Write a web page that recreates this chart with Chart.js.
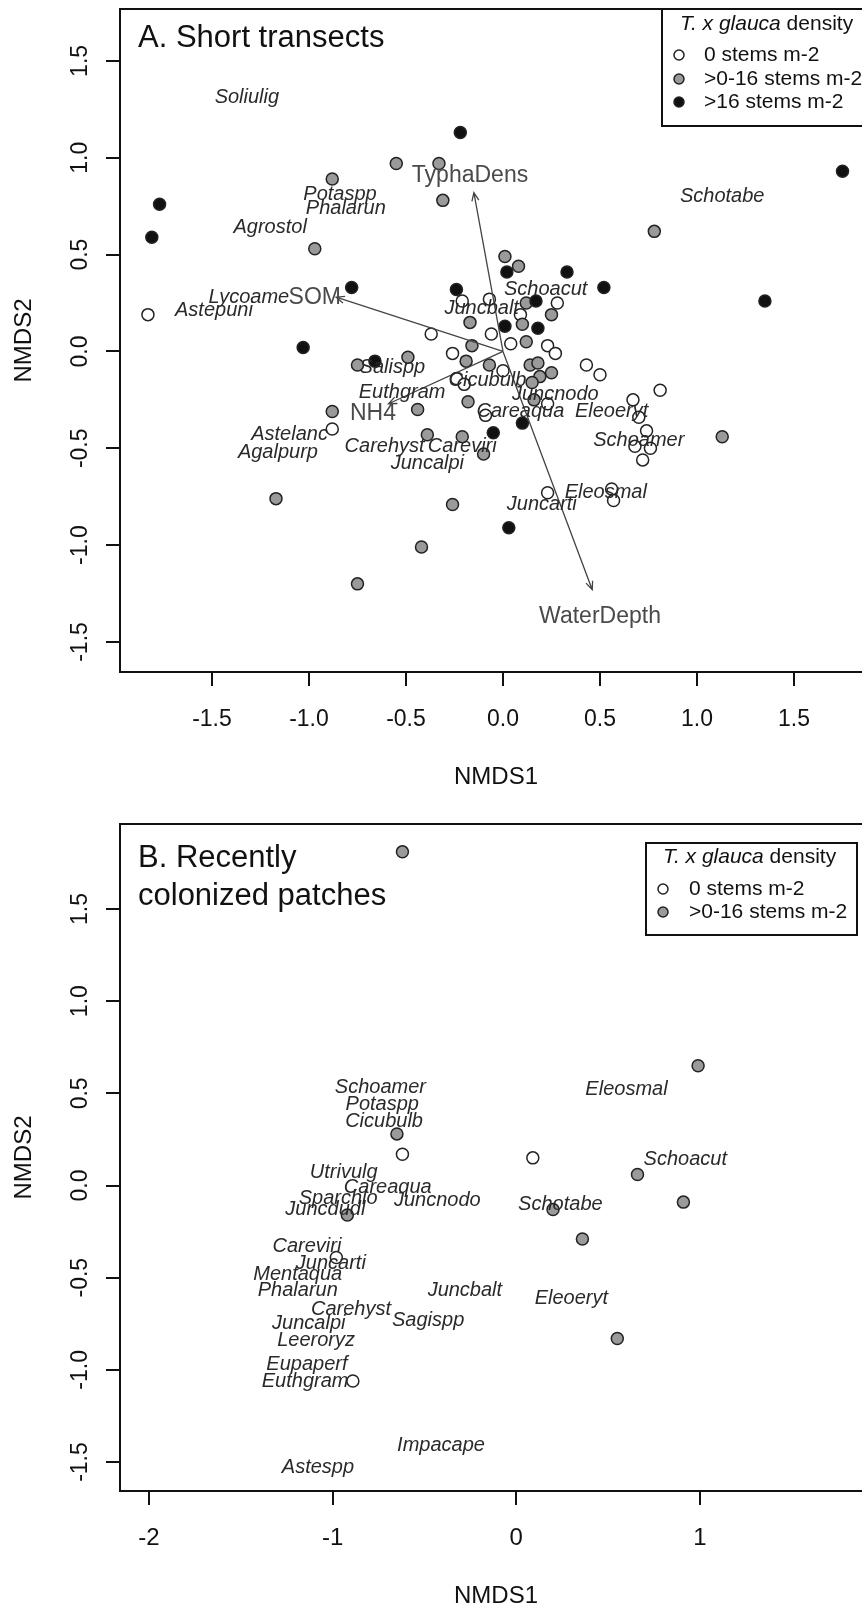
<!DOCTYPE html>
<html>
<head>
<meta charset="utf-8">
<script src="https://cdn.jsdelivr.net/npm/chart.js@4.4.1/dist/chart.umd.min.js"></script>
<style>
  html, body { margin: 0; padding: 0; background: #fff; overflow: hidden; }
  .wrap { position: relative; width: 880px; }
  #wrapA { height: 800px; }
  #wrapB { height: 808px; }
</style>
</head>
<body>
<div class="wrap" id="wrapA"><canvas id="chartA"></canvas></div>
<div class="wrap" id="wrapB"><canvas id="chartB"></canvas></div>
<script>
// ---- Panel A: short transects (site scores by T. x glauca density) ----
var openA = [[-1.83, 0.19], [-0.21, 0.26], [-0.07, 0.27], [0.28, 0.25], [0.09, 0.19], [-0.06, 0.09],
  [-0.37, 0.09], [0.04, 0.04], [0.23, 0.03], [0.27, -0.01], [-0.26, -0.01], [0.43, -0.07],
  [0.00, -0.10], [0.50, -0.12], [-0.24, -0.14], [-0.20, -0.17], [0.81, -0.20], [0.67, -0.25],
  [0.70, -0.34], [0.74, -0.41], [0.68, -0.49], [0.76, -0.50], [0.72, -0.56], [-0.09, -0.33],
  [0.23, -0.73], [0.56, -0.71], [0.57, -0.77], [0.23, -0.27], [-0.88, -0.40]];
var grayA = [[-0.88, 0.89], [-0.97, 0.53], [-0.55, 0.97], [-0.33, 0.97], [-0.31, 0.78], [0.78, 0.62],
  [0.01, 0.49], [0.08, 0.44], [0.12, 0.25], [0.25, 0.19], [-0.17, 0.15], [0.10, 0.14],
  [0.12, 0.05], [-0.16, 0.03], [-0.19, -0.05], [-0.07, -0.07], [0.14, -0.07], [0.18, -0.06],
  [-0.75, -0.07], [-0.49, -0.03], [0.25, -0.11], [0.19, -0.13], [0.15, -0.16], [1.13, -0.44],
  [-0.18, -0.26], [-0.21, -0.44], [-0.10, -0.53], [-0.26, -0.79], [0.16, -0.25], [-0.44, -0.30],
  [-0.88, -0.31], [-0.39, -0.43], [-1.17, -0.76], [-0.42, -1.01], [-0.75, -1.20]];
var blackA = [[-1.77, 0.76], [-1.81, 0.59], [-0.78, 0.33], [-1.03, 0.02], [-0.22, 1.13], [1.75, 0.93],
  [1.35, 0.26], [0.02, 0.41], [0.33, 0.41], [0.52, 0.33], [-0.24, 0.32], [0.17, 0.26],
  [0.01, 0.13], [0.18, 0.12], [-0.66, -0.05], [0.10, -0.37], [-0.05, -0.42], [0.03, -0.91]];

var sppA = ["Soliulig", "Potaspp", "Phalarun", "Agrostol", "Schotabe", "Lycoame", "Astepuni",
  "Schoacut", "Juncbalt", "Salispp", "Euthgram", "Cicubulb", "Juncnodo", "Careaqua", "Eleoeryt",
  "Carehyst", "Careviri", "Juncalpi", "Astelanc", "Agalpurp", "Schoamer", "Eleosmal", "Juncarti"];
var sppAx = [-1.32, -0.84, -0.81, -1.20, 1.13, -1.31, -1.49, 0.22, -0.11, -0.57, -0.52, -0.08, 0.27,
  0.09, 0.56, -0.61, -0.21, -0.39, -1.10, -1.16, 0.70, 0.53, 0.20];
var sppAy = [1.31, 0.81, 0.74, 0.64, 0.80, 0.28, 0.21, 0.32, 0.22, -0.08, -0.21, -0.15, -0.22,
  -0.31, -0.31, -0.49, -0.49, -0.58, -0.43, -0.52, -0.46, -0.73, -0.79];

var envA = ["TyphaDens", "SOM", "NH4", "WaterDepth"];
var envAx = [-0.15, -0.86, -0.59, 0.46];
var envAy = [0.82, 0.28, -0.27, -1.23];
var envLabAx = [-0.17, -0.97, -0.67, 0.50];
var envLabAy = [0.91, 0.28, -0.32, -1.37];

var xTicksA = [-1.5, -1, -0.5, 0, 0.5, 1, 1.5];
var xLabelsA = ["-1.5", "-1.0", "-0.5", "0.0", "0.5", "1.0", "1.5"];

// ---- Panel B: recently colonized patches ----
var openB = [[-0.62, 0.17], [0.09, 0.15], [-0.98, -0.39], [-0.89, -1.06]];
var grayB = [[-0.62, 1.81], [-0.65, 0.28], [0.99, 0.65], [0.66, 0.06], [0.91, -0.09], [0.20, -0.13],
  [0.36, -0.29], [0.55, -0.83], [-0.92, -0.16]];

var sppB = ["Schoamer", "Potaspp", "Cicubulb", "Utrivulg", "Careaqua", "Sparchlo", "Juncnodo",
  "Juncdudl", "Careviri", "Juncarti", "Mentaqua", "Phalarun", "Juncbalt", "Carehyst", "Sagispp",
  "Juncalpi", "Leeroryz", "Eupaperf", "Euthgram", "Astespp", "Impacape", "Eleosmal", "Schoacut",
  "Schotabe", "Eleoeryt"];
var sppBx = [-0.74, -0.73, -0.72, -0.94, -0.70, -0.97, -0.43, -1.04, -1.14, -1.01, -1.19, -1.19,
  -0.28, -0.90, -0.48, -1.13, -1.09, -1.14, -1.15, -1.08, -0.41, 0.60, 0.92, 0.24, 0.30];
var sppBy = [0.53, 0.44, 0.35, 0.07, -0.01, -0.07, -0.08, -0.13, -0.33, -0.42, -0.48, -0.57,
  -0.57, -0.67, -0.73, -0.75, -0.84, -0.97, -1.06, -1.53, -1.41, 0.52, 0.14, -0.10, -0.61];

var xTicksB = [-2, -1, 0, 1];
var xLabelsB = ["-2", "-1", "0", "1"];

var yTicks = [-1.5, -1, -0.5, 0, 0.5, 1, 1.5];
var yLabels = ["-1.5", "-1.0", "-0.5", "0.0", "0.5", "1.0", "1.5"];

var FONT = "'Liberation Sans', Arial, Helvetica, sans-serif";
Chart.defaults.font.family = FONT;
Chart.defaults.color = "#111";

function pts(list) {
  return list.map(function (p) { return { x: p[0], y: p[1] }; });
}

function pointSet(label, list, fill, order) {
  return {
    label: label,
    data: pts(list),
    order: order,
    backgroundColor: fill,
    borderColor: "#222",
    pointBackgroundColor: fill,
    pointBorderColor: "#222",
    pointRadius: 6,
    pointHoverRadius: 6,
    pointBorderWidth: 1.5
  };
}

function axis(min, max, ticks, title, size, pad, isX) {
  return {
    type: "linear",
    min: min,
    max: max,
    bounds: "data",
    afterBuildTicks: function (s) {
      s.ticks = ticks.map(function (v) { return { value: v }; });
    },
    afterFit: function (s) {
      if (isX) s.height = size; else s.width = size;
    },
    ticks: { display: false },
    grid: { drawOnChartArea: false, drawTicks: true, tickLength: 14, color: "#111", lineWidth: 2 },
    border: { display: false },
    title: { display: true, text: title, color: "#111", font: { size: 24, lineHeight: 1 }, padding: pad }
  };
}

// draws the R-style extras: arrows, species names, frame, tick labels, panel title, legend
var nmdsPlugin = {
  id: "nmds",
  afterDatasetsDraw: function (chart, args, o) {
    var ctx = chart.ctx, xs = chart.scales.x, ys = chart.scales.y;
    ctx.save();
    if (o.env) {
      var x0 = xs.getPixelForValue(0), y0 = ys.getPixelForValue(0);
      ctx.strokeStyle = "#444";
      ctx.lineWidth = 1.3;
      o.env.names.forEach(function (n, i) {
        var x1 = xs.getPixelForValue(o.env.x[i]), y1 = ys.getPixelForValue(o.env.y[i]);
        var a = Math.atan2(y1 - y0, x1 - x0), h = 9;
        ctx.beginPath();
        ctx.moveTo(x0, y0);
        ctx.lineTo(x1, y1);
        ctx.moveTo(x1 - h * Math.cos(a - 0.4), y1 - h * Math.sin(a - 0.4));
        ctx.lineTo(x1, y1);
        ctx.lineTo(x1 - h * Math.cos(a + 0.4), y1 - h * Math.sin(a + 0.4));
        ctx.stroke();
      });
      ctx.fillStyle = "#4a4a4a";
      ctx.font = "23px " + FONT;
      ctx.textAlign = "center";
      ctx.textBaseline = "middle";
      o.env.names.forEach(function (n, i) {
        ctx.fillText(n, xs.getPixelForValue(o.env.lx[i]), ys.getPixelForValue(o.env.ly[i]));
      });
    }
    ctx.fillStyle = "#2a2a2a";
    ctx.font = "italic 20px " + FONT;
    ctx.textAlign = "center";
    ctx.textBaseline = "middle";
    o.spp.names.forEach(function (n, i) {
      ctx.fillText(n, xs.getPixelForValue(o.spp.x[i]), ys.getPixelForValue(o.spp.y[i]));
    });
    ctx.restore();
  },
  afterDraw: function (chart, args, o) {
    var ctx = chart.ctx, xs = chart.scales.x, ys = chart.scales.y, a = chart.chartArea;
    ctx.save();
    // plot frame
    ctx.strokeStyle = "#111";
    ctx.lineWidth = 2;
    ctx.strokeRect(a.left, a.top, a.right - a.left, a.bottom - a.top);

    // tick labels
    ctx.fillStyle = "#111";
    ctx.textAlign = "center";
    ctx.textBaseline = "middle";
    ctx.font = o.xFont + "px " + FONT;
    o.xTicks.forEach(function (v, i) {
      ctx.fillText(o.xLabels[i], xs.getPixelForValue(v), o.xLabelY);
    });
    ctx.font = "23px " + FONT;
    yTicks.forEach(function (v, i) {
      ctx.save();
      ctx.translate(81, ys.getPixelForValue(v));
      ctx.rotate(-Math.PI / 2);
      ctx.fillText(yLabels[i], 0, 0);
      ctx.restore();
    });

    // panel title
    ctx.textAlign = "left";
    ctx.textBaseline = "alphabetic";
    ctx.font = "31px " + FONT;
    o.title.lines.forEach(function (t, i) {
      ctx.fillText(t, 138, o.title.y[i]);
    });

    // legend box
    var L = o.legend;
    ctx.fillStyle = "#fff";
    ctx.fillRect(L.box[0], L.box[1], L.box[2], L.box[3]);
    ctx.strokeStyle = "#111";
    ctx.lineWidth = 2;
    ctx.strokeRect(L.box[0], L.box[1], L.box[2], L.box[3]);
    ctx.fillStyle = "#111";
    ctx.textBaseline = "middle";
    ctx.font = "italic 21px " + FONT;
    ctx.fillText("T. x glauca", L.titleX, L.titleY);
    var w = ctx.measureText("T. x glauca").width;
    ctx.font = "21px " + FONT;
    ctx.fillText(" density", L.titleX + w, L.titleY);
    chart.data.datasets.forEach(function (ds, i) {
      ctx.beginPath();
      ctx.arc(L.markX, L.rows[i], 5, 0, Math.PI * 2);
      ctx.fillStyle = ds.backgroundColor;
      ctx.fill();
      ctx.lineWidth = 1.5;
      ctx.strokeStyle = ds.borderColor;
      ctx.stroke();
      ctx.fillStyle = "#111";
      ctx.fillText(ds.label, L.textX, L.rows[i]);
    });
    ctx.restore();
  }
};

var commonPlugins = {
  legend: { display: false },
  tooltip: { enabled: false }
};

var chartA = new Chart(document.getElementById("chartA").getContext("2d"), {
  type: "scatter",
  data: {
    datasets: [
      pointSet("0 stems m-2", openA, "#ffffff", 3),
      pointSet(">0-16 stems m-2", grayA, "#9a9a9a", 2),
      pointSet(">16 stems m-2", blackA, "#111111", 1)
    ]
  },
  options: {
    responsive: true,
    maintainAspectRatio: false,
    animation: false,
    events: [],
    layout: { padding: { top: 9, right: 8, left: 0, bottom: 0 } },
    scales: {
      x: axis(-1.974, 1.902, xTicksA, "NMDS1", 128, { top: 0, bottom: 11 }, true),
      y: axis(-1.655, 1.768, yTicks, "NMDS2", 120, { top: 12, bottom: 0 }, false)
    },
    plugins: Object.assign({}, commonPlugins, {
      nmds: {
        env: { names: envA, x: envAx, y: envAy, lx: envLabAx, ly: envLabAy },
        spp: { names: sppA, x: sppAx, y: sppAy },
        xTicks: xTicksA, xLabels: xLabelsA, xFont: 23, xLabelY: 720,
        title: { lines: ["A. Short transects"], y: [47] },
        legend: { box: [662, 9, 240, 117], titleX: 680, titleY: 24, markX: 679, textX: 704, rows: [55, 79, 102] }
      }
    })
  },
  plugins: [nmdsPlugin]
});

var chartB = new Chart(document.getElementById("chartB").getContext("2d"), {
  type: "scatter",
  data: {
    datasets: [
      pointSet("0 stems m-2", openB, "#ffffff", 2),
      pointSet(">0-16 stems m-2", grayB, "#9a9a9a", 1)
    ]
  },
  options: {
    responsive: true,
    maintainAspectRatio: false,
    animation: false,
    events: [],
    layout: { padding: { top: 24, right: 8, left: 0, bottom: 0 } },
    scales: {
      x: axis(-2.158, 1.937, xTicksB, "NMDS1", 117, { top: 0, bottom: 0 }, true),
      y: axis(-1.657, 1.961, yTicks, "NMDS2", 120, { top: 12, bottom: 0 }, false)
    },
    plugins: Object.assign({}, commonPlugins, {
      nmds: {
        spp: { names: sppB, x: sppBx, y: sppBy },
        xTicks: xTicksB, xLabels: xLabelsB, xFont: 24, xLabelY: 738,
        title: { lines: ["B. Recently", "colonized patches"], y: [67, 105] },
        legend: { box: [646, 43, 211, 92], titleX: 663, titleY: 57, markX: 663, textX: 689, rows: [89, 112] }
      }
    })
  },
  plugins: [nmdsPlugin]
});
</script>
</body>
</html>
